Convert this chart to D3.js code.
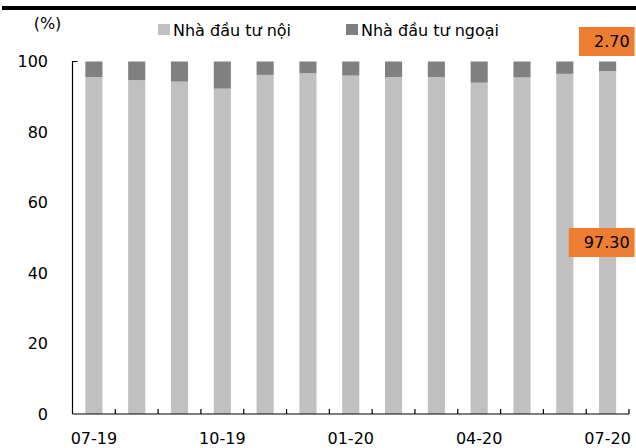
<!DOCTYPE html>
<html>
<head>
<meta charset="utf-8">
<script src="https://cdn.jsdelivr.net/npm/d3@7"></script>
<style>
  html, body { margin: 0; padding: 0; background: #fff; }
  svg { display: block; font-family: "DejaVu Sans", Verdana, sans-serif; }
</style>
</head>
<body>
<svg id="chart" width="636" height="448"></svg>
<script>
// Monthly share of trading value: domestic vs foreign investors (%)
const months = ["07-19","08-19","09-19","10-19","11-19","12-19","01-20","02-20","03-20","04-20","05-20","06-20","07-20"];
const domestic = [95.6, 94.7, 94.3, 92.3, 96.2, 96.7, 96.0, 95.6, 95.6, 94.0, 95.5, 96.5, 97.3];
const foreign  = [4.4, 5.3, 5.7, 7.7, 3.8, 3.3, 4.0, 4.4, 4.4, 6.0, 4.5, 3.5, 2.7];
const seriesNames = ["Nhà đầu tư nội", "Nhà đầu tư ngoại"];
const yTicks = [0, 20, 40, 60, 80, 100];
const xLabelEvery = 3;

const colors = ["#c0c0c0", "#808080"];
const orange = "#ed7d31";

const svg = d3.select("#chart");
const plot = { left: 72.5, right: 629, top: 61.5, bottom: 414 };

const x = d3.scaleBand().domain(months).range([plot.left, plot.right])
  .paddingInner(0.6).paddingOuter(0.3);
const y = d3.scaleLinear().domain([0, 100]).range([plot.bottom, plot.top]);

// thick rule across the top
svg.append("rect").attr("x", 2).attr("y", 6).attr("width", 634).attr("height", 4).attr("fill", "#000");

// stacked data
const rows = months.map((m, i) => ({ month: m, dom: domestic[i], fgn: foreign[i] }));
const layers = d3.stack().keys(["dom", "fgn"])(rows);

svg.append("g").selectAll("g").data(layers).join("g")
  .attr("fill", (d, i) => colors[i])
  .selectAll("rect").data(d => d).join("rect")
  .attr("x", d => x(d.data.month))
  .attr("width", x.bandwidth())
  .attr("y", d => y(d[1]))
  .attr("height", d => y(d[0]) - y(d[1]));

// y axis line with short cap at top
const axisG = svg.append("g").attr("stroke", "#000").attr("stroke-width", 1.2).attr("fill", "none");
axisG.append("path").attr("d", `M${plot.left + 5},${y(100)}H${plot.left}V${y(0)}`);

// y tick labels
svg.append("g").selectAll("text").data(yTicks).join("text")
  .attr("x", 48).attr("y", d => y(d)).attr("dy", "0.36em")
  .attr("text-anchor", "end").attr("font-size", 16).attr("fill", "#000")
  .text(d => d);

// x axis: baseline and upward ticks at category boundaries
axisG.append("path").attr("d", `M${plot.left},${y(0)}H${plot.right}`);
const bandEdge = i => plot.left + i * (plot.right - plot.left) / months.length;
axisG.selectAll("line").data(d3.range(1, months.length + 1)).join("line")
  .attr("x1", bandEdge).attr("x2", bandEdge)
  .attr("y1", y(0)).attr("y2", y(0) - 5);

// x labels every third month
svg.append("g").selectAll("text").data(months.filter((m, i) => i % xLabelEvery === 0)).join("text")
  .attr("x", d => x(d) + x.bandwidth() / 2).attr("y", 444)
  .attr("text-anchor", "middle").attr("font-size", 16).attr("fill", "#000")
  .text(d => d);

// unit label
svg.append("text").attr("x", 47.5).attr("y", 29).attr("text-anchor", "middle")
  .attr("font-size", 16).text("(%)");

// legend
const legendX = [158, 346];
const lg = svg.append("g").selectAll("g").data(seriesNames).join("g")
  .attr("transform", (d, i) => `translate(${legendX[i]},0)`);
lg.append("rect").attr("x", 0).attr("y", 24).attr("width", 12).attr("height", 11).attr("fill", (d, i) => colors[i]);
lg.append("text").attr("x", 15).attr("y", 36).attr("font-size", 16).attr("fill", "#000").text(d => d);

// value callouts on the latest month, text right-aligned inside an orange box
const last = rows[rows.length - 1];
const textRight = x(last.month) + x.bandwidth() / 2 + 22;
function callout(value, cy) {
  const g = svg.append("g");
  const t = g.append("text").attr("x", textRight).attr("y", cy).attr("dy", "0.36em")
    .attr("text-anchor", "end").attr("font-size", 16).attr("fill", "#000")
    .text(value.toFixed(2));
  const w = t.node().getComputedTextLength();
  g.insert("rect", "text").attr("x", textRight - w - 15).attr("y", cy - 14.5)
    .attr("width", w + 20).attr("height", 29).attr("fill", orange);
}
callout(last.fgn, y(100) - 20);
callout(last.dom, (y(0) + y(last.dom)) / 2);
</script>
</body>
</html>
